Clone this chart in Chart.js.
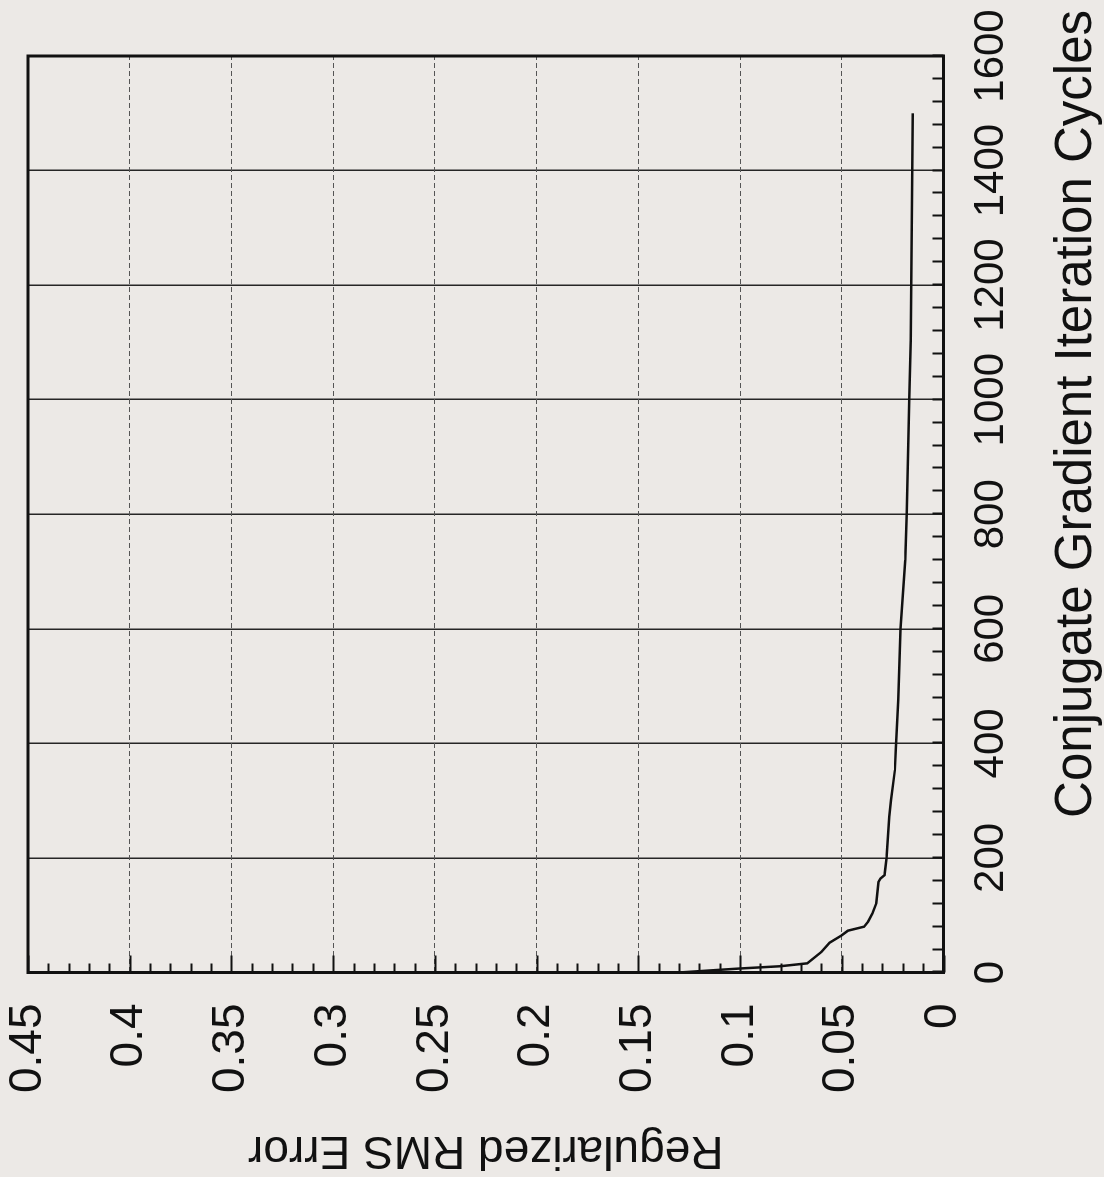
<!DOCTYPE html>
<html>
<head>
<meta charset="utf-8">
<script src="https://cdn.jsdelivr.net/npm/chart.js@4/dist/chart.umd.min.js"></script>
<style>
  html, body { margin: 0; padding: 0; background: #ece9e6; overflow: hidden; }
  body { width: 1104px; height: 1177px; position: relative; }
  /* chart is drawn upright, then turned a quarter turn counter-clockwise like the scan */
  #wrap {
    position: absolute; left: 0; top: 0;
    width: 1177px; height: 1104px;
    transform-origin: 0 0;
    transform: translateY(1177px) rotate(-90deg);
  }
</style>
</head>
<body>
<div id="wrap"><canvas id="cgChart" width="1177" height="1104"></canvas></div>
<script>
// Data
const iterations = [0, 4, 7, 11, 16, 36, 52, 65, 73, 80, 89, 103, 121, 158, 164, 170, 199, 272, 301, 353, 388, 476, 600, 720, 802, 1001, 1104, 1202, 1400, 1500];
const rmsError = [0.130, 0.113, 0.100, 0.080, 0.067, 0.060, 0.056, 0.050, 0.047, 0.039, 0.037, 0.035, 0.033, 0.032, 0.031, 0.029, 0.028, 0.0267, 0.0258, 0.0239, 0.0235, 0.0222, 0.0211, 0.0188, 0.0181, 0.0168, 0.0161, 0.0158, 0.0153, 0.0151];

// Axis setup
const iterMax = 1600;
const iterStep = 200;
const iterMinorStep = 40;
const errMax = 0.45;
const errStep = 0.05;
const errMinorStep = 0.01;

const xTitle = 'Conjugate Gradient Iteration Cycles';
const yTitle = 'Regularized RMS Error';

const FONT = '"Liberation Sans", Arial, Helvetica, sans-serif';
const INK = '#111111';

// frame, inward minor ticks and the x title
const frameAndTicks = {
  id: 'frameAndTicks',
  afterDraw(chart) {
    const { ctx, chartArea: a, scales: { x, y } } = chart;
    ctx.save();
    ctx.strokeStyle = INK;
    ctx.lineWidth = 2;
    // iteration ticks along the bottom edge
    for (let i = 0; i * iterMinorStep <= iterMax; i++) {
      const px = Math.round(x.getPixelForValue(i * iterMinorStep)) + 0.5;
      ctx.beginPath();
      ctx.moveTo(px, a.bottom);
      ctx.lineTo(px, a.bottom - 11);
      ctx.stroke();
    }
    // error ticks along the left edge, longer on every 0.05
    const nErr = Math.round(errMax / errMinorStep);
    for (let i = 0; i <= nErr; i++) {
      const py = Math.round(y.getPixelForValue(i * errMinorStep)) + 0.5;
      const len = i % 5 === 0 ? 17 : 9;
      ctx.beginPath();
      ctx.moveTo(a.left, py);
      ctx.lineTo(a.left + len, py);
      ctx.stroke();
    }
    ctx.lineWidth = 3;
    ctx.strokeRect(a.left, a.top, a.right - a.left, a.bottom - a.top);

    ctx.fillStyle = INK;
    ctx.font = '51px ' + FONT;
    ctx.textAlign = 'right';
    ctx.textBaseline = 'alphabetic';
    ctx.fillText(xTitle, a.right + 46, a.bottom + 147);
    ctx.restore();
  }
};

window.cgChartInstance = new Chart(document.getElementById('cgChart'), {
  type: 'line',
  data: {
    datasets: [{
      label: 'RMS error',
      data: iterations.map((it, i) => ({ x: it, y: rmsError[i] })),
      borderColor: INK,
      borderWidth: 2.5,
      pointRadius: 0,
      fill: false,
      tension: 0
    }]
  },
  options: {
    responsive: false,
    animation: false,
    devicePixelRatio: 1,
    layout: { padding: { top: 28, right: 56, left: 0, bottom: 0 } },
    plugins: {
      legend: { display: false },
      tooltip: { enabled: false }
    },
    scales: {
      x: {
        type: 'linear',
        min: 0,
        max: iterMax,
        afterFit: scale => {
          scale.height = 160.5;
          scale.paddingLeft = 0;
          scale.paddingRight = 0;
        },
        ticks: {
          stepSize: iterStep,
          padding: 23,
          color: INK,
          font: { family: FONT, size: 42 },
          maxRotation: 0,
          callback: v => String(v)
        },
        grid: { color: '#262626', lineWidth: 1.5, drawTicks: false },
        border: { display: false }
      },
      y: {
        min: 0,
        max: errMax,
        afterFit: scale => {
          scale.width = 204.5;
          scale.paddingTop = 0;
          scale.paddingBottom = 0;
        },
        ticks: {
          stepSize: errStep,
          padding: 31,
          color: INK,
          font: { family: FONT, size: 46 },
          callback: v => String(+v.toFixed(2))
        },
        grid: { color: '#555555', lineWidth: 1, drawTicks: false },
        border: { display: false, dash: [5, 3] },
        title: {
          display: true,
          text: yTitle,
          color: INK,
          font: { family: FONT, size: 46 },
          padding: 0
        }
      }
    }
  },
  plugins: [frameAndTicks]
});
</script>
</body>
</html>
